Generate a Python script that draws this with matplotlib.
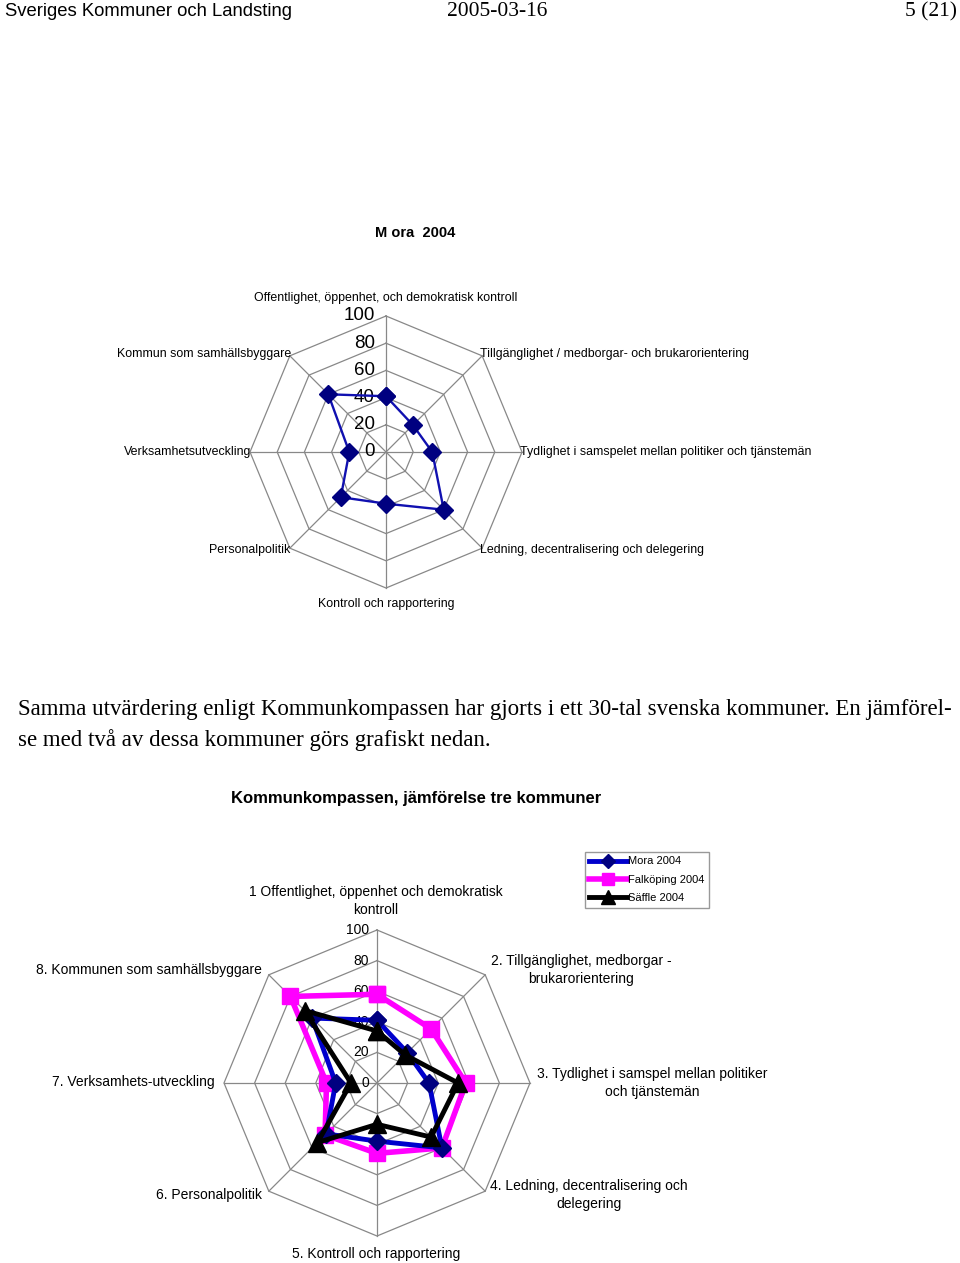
import numpy as np
import matplotlib
matplotlib.use("Agg")
import matplotlib.pyplot as plt
from matplotlib.transforms import offset_copy

# Kategorier (8 axlar, medurs från toppen)
kategorier_mora = [
    "Offentlighet, öppenhet, och demokratisk kontroll",
    "Tillgänglighet / medborgar- och brukarorientering",
    "Tydlighet i samspelet mellan politiker och tjänstemän",
    "Ledning, decentralisering och delegering",
    "Kontroll och rapportering",
    "Personalpolitik",
    "Verksamhetsutveckling",
    "Kommun som samhällsbyggare",
]
kategorier_jmf = [
    "1 Offentlighet, öppenhet och demokratisk\nkontroll",
    "2. Tillgänglighet, medborgar -\nbrukarorientering",
    "3. Tydlighet i samspel mellan politiker\noch tjänstemän",
    "4. Ledning, decentralisering och\ndelegering",
    "5. Kontroll och rapportering",
    "6. Personalpolitik",
    "7. Verksamhets-utveckling",
    "8. Kommunen som samhällsbyggare",
]

# Värden
mora = [41, 28, 34, 60, 38, 47, 27, 60]
falkoping = [58, 50, 58, 60, 46, 48, 33, 80]
saffle = [34, 26, 53, 50, 27, 55, 17, 67]

skala = [0, 20, 40, 60, 80, 100]

W, H = 960, 1263
fig = plt.figure(figsize=(W / 100, H / 100), dpi=100)
plt.rcParams['font.family'] = ['Liberation Sans', 'DejaVu Sans']


def fx(x):
    return x / W


def fy(y):
    return 1 - y / H


def radar_axes(cx, cy, R):
    ax = fig.add_axes([(cx - R) / W, (H - cy - R) / H, 2 * R / W, 2 * R / H],
                      projection='polar')
    ax.set_theta_zero_location('N')
    ax.set_theta_direction(-1)
    ax.set_ylim(0, 100)
    ax.grid(False)
    ax.set_xticks([])
    ax.set_yticks([])
    ax.spines['polar'].set_visible(False)
    ax.patch.set_alpha(0)
    theta = np.linspace(0, 2 * np.pi, 9)
    for r in skala[1:]:
        ax.plot(theta, [r] * 9, color='#888888', lw=0.9, zorder=1, clip_on=False)
    for t in theta[:-1]:
        ax.plot([t, t], [0, 100], color='#888888', lw=0.9, zorder=1, clip_on=False)
    return ax


vinklar = np.linspace(0, 2 * np.pi, 9)


def sluten(v):
    return list(v) + [v[0]]


# Sidhuvud
fig.text(fx(5), fy(12), "Sveriges Kommuner och Landsting", fontsize=13.3,
         ha='left', va='center')
fig.text(fx(497), fy(12), "2005-03-16", fontsize=15.5, ha='center', va='center',
         family='Liberation Serif')
fig.text(fx(957), fy(12), "5 (21)", fontsize=15.5, ha='right', va='center',
         family='Liberation Serif')

# Diagram 1: Mora 2004
fig.text(fx(415), fy(233), "M ora  2004", fontsize=10.5, fontweight='bold',
         ha='center', va='center')
ax1 = radar_axes(386, 452, 136)
ax1.plot(vinklar, sluten(mora), color='#1010B0', lw=1.7, marker='D',
         markersize=9, markerfacecolor='#000080', markeredgecolor='#000080',
         zorder=3, clip_on=False)
trans1 = offset_copy(ax1.transData, fig=fig, x=-11, y=0, units='dots')
for r in skala:
    ax1.text(0, r, str(r), transform=trans1, fontsize=13.5, ha='right',
             va='center', zorder=2)

lab1 = [(386, 298, 'center'), (480, 354, 'left'), (520, 452, 'left'),
        (480, 550, 'left'), (386, 604, 'center'), (290, 550, 'right'),
        (251, 452, 'right'), (291, 354, 'right')]
for txt, (x, y, ha) in zip(kategorier_mora, lab1):
    fig.text(fx(x), fy(y), txt, fontsize=8.9, ha=ha, va='center')

# Brödtext
fig.text(fx(18), fy(709),
         "Samma utvärdering enligt Kommunkompassen har gjorts i ett 30-tal svenska kommuner. En jämförel-",
         fontsize=16.5, family='Liberation Serif', ha='left', va='center')
fig.text(fx(18), fy(740), "se med två av dessa kommuner görs grafiskt nedan.",
         fontsize=16.5, family='Liberation Serif', ha='left', va='center')

# Diagram 2: jämförelse
fig.text(fx(416), fy(798), "Kommunkompassen, jämförelse tre kommuner",
         fontsize=12, fontweight='bold', ha='center', va='center')
ax2 = radar_axes(377, 1083, 153)
l_mora, = ax2.plot(vinklar, sluten(mora), color='#0000CC', lw=3.5, marker='D',
                   markersize=9.5, markerfacecolor='#000080',
                   markeredgecolor='#000080', zorder=4, clip_on=False,
                   label='Mora 2004')
l_falk, = ax2.plot(vinklar, sluten(falkoping), color='#FF00FF', lw=4,
                   marker='s', markersize=11.5, zorder=3, clip_on=False,
                   label='Falköping 2004')
l_saff, = ax2.plot(vinklar, sluten(saffle), color='black', lw=3.5, marker='^',
                   markersize=12.5, zorder=5, clip_on=False, label='Säffle 2004')
trans2 = offset_copy(ax2.transData, fig=fig, x=-8, y=0, units='dots')
for r in skala:
    ax2.text(0, r, str(r), transform=trans2, fontsize=10, ha='right',
             va='center', zorder=2)

lab2 = [(376, 901, 'center'), (581, 970, 'center'), (652, 1083, 'center'),
        (589, 1195, 'center'), (376, 1254, 'center'), (262, 1195, 'right'),
        (215, 1082, 'right'), (262, 970, 'right')]
for txt, (x, y, ha) in zip(kategorier_jmf, lab2):
    fig.text(fx(x), fy(y), txt, fontsize=10, ha=ha, va='center',
             multialignment='center', linespacing=1.35)

fig.legend(handles=[l_mora, l_falk, l_saff], loc='upper left',
           bbox_to_anchor=(fx(585), fy(852)), fontsize=8, frameon=True,
           fancybox=False, edgecolor='#999999', framealpha=1,
           handlelength=3.4, handletextpad=0.1, borderpad=0.4,
           labelspacing=0.75, borderaxespad=0, markerscale=0.8)

fig.savefig("out.png", dpi=100)
